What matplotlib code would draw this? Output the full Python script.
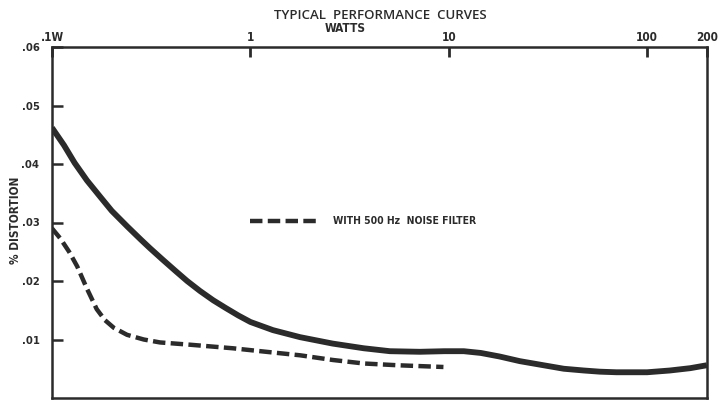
import matplotlib.pyplot as plt
import matplotlib.ticker as mticker

# ── Data ──────────────────────────────────────────────────────────────────
watts_plain = [0.1, 0.115, 0.13, 0.15, 0.175, 0.2, 0.24, 0.28, 0.312, 0.36,
               0.42, 0.48, 0.557, 0.65, 0.75, 0.87, 1.0, 1.3, 1.78, 2.6, 3.73,
               5.05, 7.14, 9.5, 11.9, 14.5, 18.0, 22.8, 30.0, 38.0, 48.0, 57.7,
               70.0, 82.6, 100.0, 130.0, 165.0, 200.0]
dist_plain = [0.0462, 0.0432, 0.0402, 0.0372, 0.0344, 0.0320, 0.0293, 0.0271,
              0.0256, 0.0237, 0.0217, 0.0200, 0.0183, 0.0167, 0.0154, 0.0141,
              0.0130, 0.0116, 0.0104, 0.0093, 0.0085, 0.0080, 0.0079, 0.0080,
              0.0080, 0.0077, 0.0071, 0.0063, 0.0056, 0.0050, 0.0047, 0.0045,
              0.0044, 0.0044, 0.0044, 0.0047, 0.0051, 0.0056]

watts_filter = [0.1, 0.11, 0.122, 0.134, 0.15, 0.168, 0.185, 0.205, 0.239, 0.29,
                0.35, 0.5, 0.816, 1.2, 1.78, 2.6, 3.73, 5.5, 9.4]
dist_filter = [0.0290, 0.0273, 0.0250, 0.0225, 0.0187, 0.0152, 0.0133, 0.0120,
               0.0108, 0.0100, 0.0095, 0.0091, 0.0085, 0.0079, 0.0073, 0.0065,
               0.0059, 0.0056, 0.0053]

x_ticks = [0.1, 1, 10, 100, 200]
x_tick_labels = [".1W", "1", "10", "100", "200"]
y_ticks = [0.01, 0.02, 0.03, 0.04, 0.05, 0.06]
y_tick_labels = [".01", ".02", ".03", ".04", ".05", ".06"]

INK = "#2b2b2b"
NARROW = dict(family="DejaVu Sans", stretch="condensed", fontweight="bold")

fig = plt.figure(figsize=(7.28, 4.0), dpi=100)
ax = fig.add_axes([0.0714, 0.005, 0.8996, 0.8775])

ax.plot(watts_plain, dist_plain, color=INK, lw=4.2, solid_capstyle="butt",
        solid_joinstyle="round")
ax.plot(watts_filter, dist_filter, color=INK, lw=3.2, dashes=(2.8, 1.2),
        dash_capstyle="butt")

ax.set_xscale("log")
ax.set_xlim(0.1, 200)
ax.set_ylim(0, 0.06)

ax.xaxis.set_major_locator(mticker.FixedLocator(x_ticks))
ax.xaxis.set_major_formatter(mticker.FixedFormatter(x_tick_labels))
ax.xaxis.set_minor_locator(mticker.NullLocator())
ax.xaxis.tick_top()
ax.tick_params(axis="x", direction="in", length=7, width=2, pad=2,
               labelsize=8.5, colors=INK)
ax.set_yticks(y_ticks)
ax.set_yticklabels(y_tick_labels)
ax.tick_params(axis="y", direction="in", length=8, width=1.8, pad=9,
               labelsize=8, colors=INK)
for lab in ax.get_xticklabels() + ax.get_yticklabels():
    lab.set_family("DejaVu Sans")
    lab.set_stretch("condensed")
    lab.set_fontweight("bold")

for sp in ax.spines.values():
    sp.set_linewidth(1.8)
    sp.set_color(INK)

# legend drawn by hand, as on the sheet
ax.plot([0.996, 2.23], [0.0302, 0.0302], color=INK, lw=3.2, dashes=(2.8, 1.2),
        dash_capstyle="butt")
ax.text(2.6, 0.0302, "WITH 500 Hz  NOISE FILTER", fontsize=7.5, color=INK,
        va="center", ha="left", **NARROW)

fig.text(0.522, 0.962, "TYPICAL  PERFORMANCE  CURVES", ha="center", va="center",
         family=["Open Sans", "DejaVu Sans"], fontweight="semibold",
         fontsize=9.5, color=INK)
fig.text(0.474, 0.93, "WATTS", ha="center", va="center", fontsize=8.5,
         color=INK, **NARROW)
fig.text(0.021, 0.45, "% DISTORTION", ha="center", va="center", rotation=90,
         fontsize=8.5, color=INK, **NARROW)

fig.savefig("out.png", dpi=100)
